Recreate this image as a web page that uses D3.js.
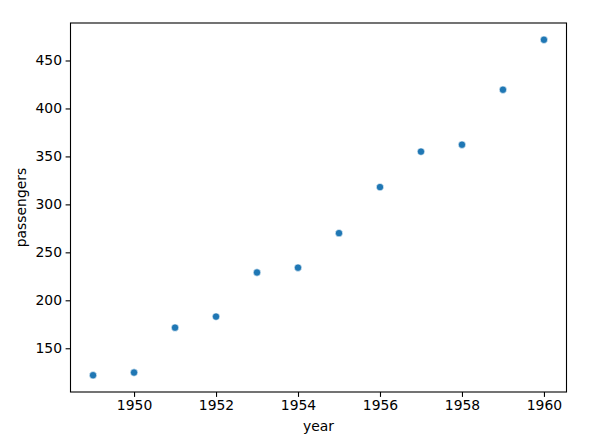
<!DOCTYPE html>
<html>
<head>
<meta charset="utf-8">
<script src="https://cdn.jsdelivr.net/npm/d3@7"></script>
<style>
  body { margin: 0; background: #fff; }
  svg { display: block; }
  text { font-family: "DejaVu Sans", sans-serif; fill: #000; }
</style>
</head>
<body>
<svg id="chart" width="609" height="435"></svg>
<script>
const years = [1949, 1950, 1951, 1952, 1953, 1954, 1955, 1956, 1957, 1958, 1959, 1960];
const passengers = [121.9, 124.7, 171.5, 183.0, 229.0, 234.0, 270.0, 318.0, 355.0, 362.2, 419.5, 471.6];
const xTicks = [1950, 1952, 1954, 1956, 1958, 1960];
const yTicks = [150, 200, 250, 300, 350, 400, 450];
const xLabel = "year";
const yLabel = "passengers";

const svg = d3.select("#chart");
const L = 70.5, R = 566.5, T = 23, B = 392;

const xMin = d3.min(years), xMax = d3.max(years);
const xPad = (xMax - xMin) * 0.05;
const yMin = d3.min(passengers), yMax = d3.max(passengers);
const yPad = (yMax - yMin) * 0.05;

const x = d3.scaleLinear().domain([xMin - xPad, xMax + xPad]).range([L, R]);
const y = d3.scaleLinear().domain([yMin - yPad, yMax + yPad]).range([B, T]);

const fontSize = 13.9;

// points
svg.append("g").selectAll("circle")
  .data(years.map((yr, i) => ({ yr, v: passengers[i] })))
  .join("circle")
  .attr("cx", d => x(d.yr))
  .attr("cy", d => y(d.v))
  .attr("r", 3.7)
  .attr("fill", "#1f77b4")
  .attr("stroke", "#ffffff")
  .attr("stroke-width", 0.6);

// axes
const xAxis = d3.axisBottom(x).tickValues(xTicks).tickFormat(d3.format("d")).tickSize(4.9).tickPadding(3.6);
const yAxis = d3.axisLeft(y).tickValues(yTicks).tickFormat(d3.format("d")).tickSize(4.9).tickPadding(3.6);

const gx = svg.append("g").attr("transform", `translate(0,${B})`).call(xAxis);
const gy = svg.append("g").attr("transform", `translate(${L},0)`).call(yAxis);
[gx, gy].forEach(g => {
  g.select(".domain").remove();
  g.selectAll(".tick line").attr("stroke", "#000").attr("stroke-width", 1.1);
  g.selectAll(".tick text").attr("font-size", fontSize).attr("font-family", "DejaVu Sans").attr("fill", "#000");
});

// frame
svg.append("rect")
  .attr("x", L).attr("y", T)
  .attr("width", R - L).attr("height", B - T)
  .attr("fill", "none").attr("stroke", "#000").attr("stroke-width", 1.1);

// labels
svg.append("text")
  .attr("x", (L + R) / 2).attr("y", 431)
  .attr("text-anchor", "middle")
  .attr("font-size", fontSize)
  .text(xLabel);

svg.append("text")
  .attr("transform", `translate(26,${(T + B) / 2}) rotate(-90)`)
  .attr("text-anchor", "middle")
  .attr("font-size", fontSize)
  .text(yLabel);
</script>
</body>
</html>
